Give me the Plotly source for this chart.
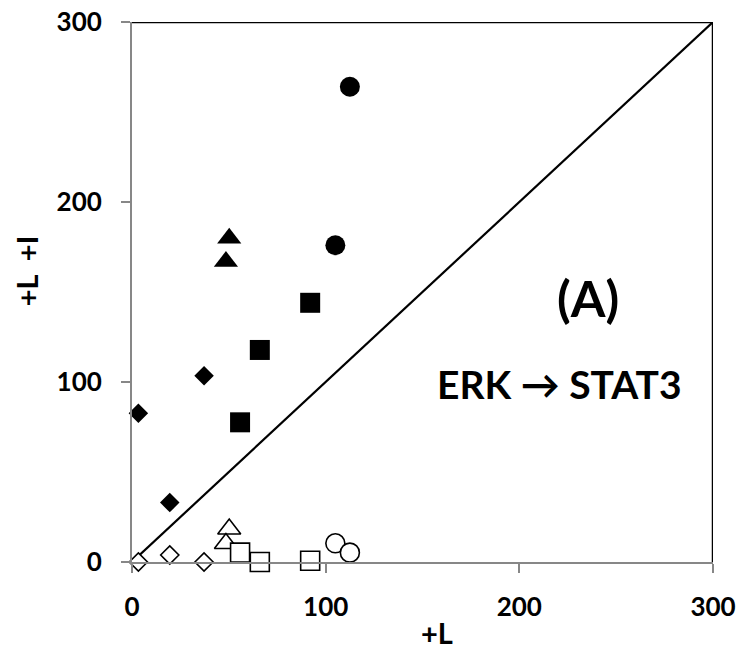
import plotly.graph_objects as go

# ---- data ----
diamond_x = [3.3, 19.5, 37.2]
diamond_filled = [82.6, 33.0, 103.5]
diamond_open = [0.0, 3.9, 0.0]

triangle_x = [50.2, 48.5]
triangle_filled = [179.8, 166.9]
triangle_open = [18.3, 10.3]

square_x = [55.8, 66.0, 92.0]
square_filled = [77.6, 117.8, 144.0]
square_open = [5.2, 0.0, 0.7]

circle_x = [105.0, 112.5]
circle_filled = [176.0, 264.0]
circle_open = [10.4, 5.2]

X_RANGE = [0, 300]
Y_RANGE = [0, 300]
TICKS = [0, 100, 200, 300]
TICK_LABELS = ["0", "100", "200", "300"]

FONT = "Lato"
GREY = "#878787"

fig = go.Figure()

series = [
    (diamond_x, diamond_filled, diamond_open, "diamond", 15),
    (triangle_x, triangle_filled, triangle_open, "triangle-up", 21),
    (square_x, square_filled, square_open, "square", 20),
    (circle_x, circle_filled, circle_open, "circle", 20),
]

for xs, yf, yo, sym, sz in series:
    fig.add_trace(go.Scatter(
        x=xs, y=yf, mode="markers", cliponaxis=False, showlegend=False,
        marker=dict(symbol=sym, size=sz, color="black", line=dict(width=0)),
    ))
    fig.add_trace(go.Scatter(
        x=xs, y=yo, mode="markers", cliponaxis=False, showlegend=False,
        marker=dict(symbol=sym, size=sz - 1, color="white",
                    line=dict(width=1.6, color="black")),
    ))

# line of equality and top/right frame
fig.add_shape(type="line", xref="x", yref="y",
              x0=X_RANGE[0], y0=Y_RANGE[0], x1=X_RANGE[1], y1=Y_RANGE[1],
              line=dict(color="black", width=2.2), layer="below")
fig.add_shape(type="line", xref="x", yref="y",
              x0=X_RANGE[0], y0=Y_RANGE[1], x1=X_RANGE[1], y1=Y_RANGE[1],
              line=dict(color="black", width=2.5), layer="above")
fig.add_shape(type="line", xref="x", yref="y",
              x0=X_RANGE[1], y0=Y_RANGE[0], x1=X_RANGE[1], y1=Y_RANGE[1],
              line=dict(color="black", width=2.5), layer="above")

fig.add_annotation(x=235.4, y=146.7, xref="x", yref="y", text="<b>(A)</b>",
                   showarrow=False, font=dict(family=FONT, size=50, color="black"))
fig.add_annotation(x=220.5, y=98.9, xref="x", yref="y", text="<b>ERK \u2192 STAT3</b>",
                   showarrow=False, font=dict(family=FONT, size=39, color="black"))

# axis titles
fig.add_annotation(x=0.525, y=-0.131, xref="paper", yref="paper", text="<b>+L</b>",
                   xanchor="center", yanchor="middle",
                   showarrow=False, font=dict(family=FONT, size=29, color="black"))
fig.add_annotation(x=-0.181, y=0.54, xref="paper", yref="paper", text="<b>+L  +I</b>",
                   xanchor="center", yanchor="middle",
                   textangle=-90, showarrow=False,
                   font=dict(family=FONT, size=29, color="black"))

axis_common = dict(
    showgrid=False, zeroline=False, showline=True, linecolor=GREY, linewidth=2,
    ticks="outside", ticklen=9, tickwidth=2, tickcolor=GREY, automargin=False,
    tickvals=TICKS, ticktext=["<b>%s</b>" % t for t in TICK_LABELS],
    tickfont=dict(family=FONT, size=26, color="black"),
)
fig.update_xaxes(range=X_RANGE, ticklabelstandoff=12, **axis_common)
fig.update_yaxes(range=Y_RANGE, ticklabelstandoff=14, **axis_common)

fig.update_layout(
    width=742, height=649,
    margin=dict(l=132, r=29, t=22, b=87, autoexpand=False),
    plot_bgcolor="white", paper_bgcolor="white",
    showlegend=False,
)

fig.write_html("out.html", config={"displayModeBar": False},
               post_script="document.body.style.margin='0';document.body.style.overflow='hidden';")
